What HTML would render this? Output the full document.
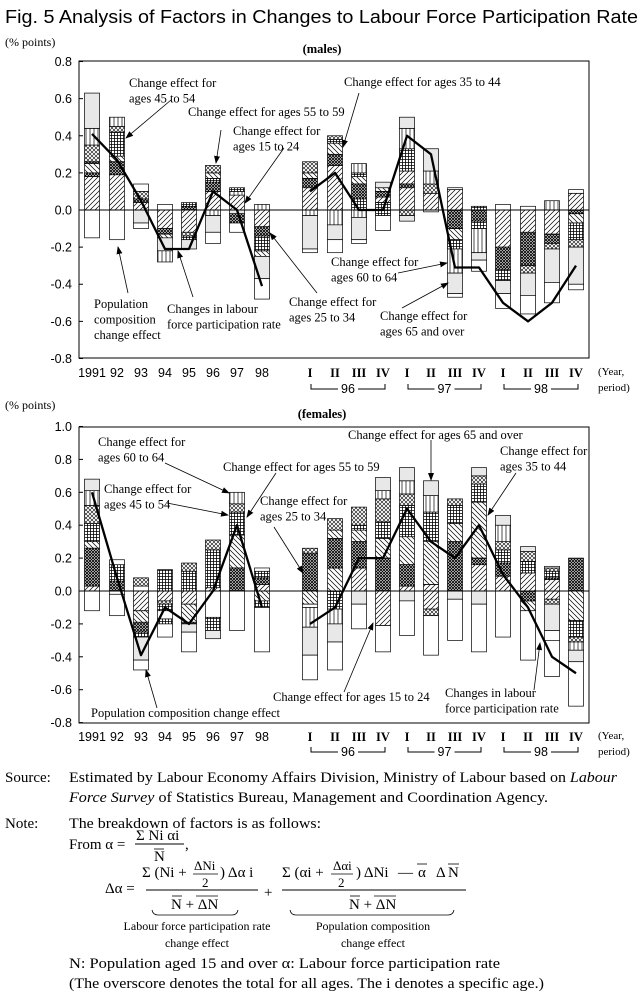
<!DOCTYPE html>
<html><head><meta charset="utf-8">
<style>
html,body{margin:0;padding:0;background:#fff;}
body{width:643px;height:997px;overflow:hidden;position:relative;}
svg{position:absolute;left:0;top:0;}
.s{font-family:"Liberation Serif",serif;}
.a{font-family:"Liberation Sans",sans-serif;}
</style></head><body>
<svg id="c" width="643" height="997" viewBox="0 0 643 997">
<defs>
<pattern id="ps" width="5" height="5" patternUnits="userSpaceOnUse"><path d="M-1,6 L6,-1 M-1,1 L1,-1 M4,6 L6,4" stroke="#000" stroke-width="0.7"/></pattern>
<pattern id="pb" width="5" height="5" patternUnits="userSpaceOnUse"><path d="M-1,-1 L6,6 M4,-1 L6,1 M-1,4 L1,6" stroke="#000" stroke-width="0.7"/></pattern>
<pattern id="pd" width="3" height="3" patternUnits="userSpaceOnUse"><rect width="3" height="3" fill="#fff"/><path d="M0,0 L3,3 M3,0 L0,3" stroke="#000" stroke-width="0.9"/></pattern>
<pattern id="pg" width="3" height="3" patternUnits="userSpaceOnUse"><rect width="3" height="3" fill="#fff"/><path d="M0,0.5 H3 M0.5,0 V3" stroke="#000" stroke-width="0.8"/></pattern>
<pattern id="px" width="4" height="4" patternUnits="userSpaceOnUse"><rect width="4" height="4" fill="#fff"/><path d="M0,0 L4,4 M4,0 L0,4" stroke="#000" stroke-width="0.6"/></pattern>
<pattern id="pv" width="4" height="4" patternUnits="userSpaceOnUse"><rect width="4" height="4" fill="#fff"/><path d="M2,0 V4" stroke="#000" stroke-width="0.7"/></pattern>
<marker id="ar" markerWidth="8" markerHeight="6" refX="7" refY="3" orient="auto" markerUnits="userSpaceOnUse"><path d="M0,0 L8,3 L0,6 z" fill="#000"/></marker>
</defs>
</svg>
<script>
const svg=document.getElementById('c');const NS='http://www.w3.org/2000/svg';
function el(t,a,txt){const e=document.createElementNS(NS,t);for(const k in a)e.setAttribute(k,a[k]);if(txt!==undefined)e.textContent=txt;svg.appendChild(e);return e;}
const fillOf={s:'url(#ps)',b:'url(#pb)',d:'url(#pd)',g:'url(#pg)',x:'url(#px)',v:'url(#pv)',y:'#e8e8e8',w:'#fff'};
const xs=[92,117,141,165,189,213,237,262,310,335,359,383,407,431,455,479,503,528,552,576];
function chart(o){
 const Y=v=>o.zero-v*o.k;
 o.bars.forEach((b,i)=>{const x=xs[i]-7.5;
  let prev=0;b[0].forEach(([t,v])=>{el('rect',{x:x,y:Y(v),width:15,height:Math.max(0,Y(prev)-Y(v)),fill:fillOf[t],stroke:'#000','stroke-width':0.7});prev=v;});
  prev=0;b[1].forEach(([t,v])=>{el('rect',{x:x,y:Y(prev),width:15,height:Math.max(0,Y(v)-Y(prev)),fill:fillOf[t],stroke:'#000','stroke-width':0.7});prev=v;});
 });
 el('rect',{x:79,y:o.top,width:510,height:o.bot-o.top,fill:'none',stroke:'#000','stroke-width':1});
 el('line',{x1:79,x2:589,y1:o.zero,y2:o.zero,stroke:'#000','stroke-width':1});
 o.ticks.forEach(v=>{const y=Y(v);el('line',{x1:79,x2:83,y1:y,y2:y,stroke:'#000'});
  el('text',{x:72,y:y+4.5,'text-anchor':'end','font-size':12.5,class:'a'},(v<0?'-':'')+Math.abs(v).toFixed(1));});
 const l1=o.line.slice(0,8).map((v,i)=>xs[i]+','+Y(v)).join(' ');
 const l2=o.line.slice(8).map((v,i)=>xs[i+8]+','+Y(v)).join(' ');
 el('polyline',{points:l1,fill:'none',stroke:'#000','stroke-width':2.3,'stroke-linejoin':'round'});
 el('polyline',{points:l2,fill:'none',stroke:'#000','stroke-width':2.3,'stroke-linejoin':'round'});
 ['1991','92','93','94','95','96','97','98'].forEach((t,i)=>el('text',{x:xs[i],y:o.xl,'text-anchor':'middle','font-size':12.5,class:'a'},t));
 const R=['I','II','III','IV'];
 for(let i=0;i<12;i++)el('text',{x:xs[8+i],y:o.xl,'text-anchor':'middle','font-size':12.5,'font-weight':'bold',class:'s'},R[i%4]);
 ['96','97','98'].forEach((t,j)=>{const a=xs[8+4*j]+1,b=xs[11+4*j]+2,m=(a+b)/2;
  el('path',{d:`M${a},${o.br-5} V${o.br} H${m-10} M${m+10},${o.br} H${b} V${o.br-5}`,fill:'none',stroke:'#000','stroke-width':1});
  el('text',{x:m,y:o.br+4,'text-anchor':'middle','font-size':12.5,class:'a'},t);});
 el('text',{x:598,y:o.xl-2,'font-size':11,class:'s'},'(Year,');
 el('text',{x:598,y:o.xl+14,'font-size':11,class:'s'},'period)');
}
function T(x,y,lines,fs){lines.forEach((t,i)=>el('text',{x:x,y:y+i*15.5,'font-size':fs||12.5,class:'s'},t));}
function A(x1,y1,x2,y2,noHead){const a={x1,y1,x2,y2,stroke:'#000','stroke-width':0.8};if(!noHead)a['marker-end']='url(#ar)';el('line',a);}

el('text',{x:5,y:23,'font-size':18,class:'a',textLength:633,lengthAdjust:'spacingAndGlyphs'},'Fig. 5  Analysis of Factors in Changes to Labour Force Participation Rate');
el('text',{x:5,y:46,'font-size':12,class:'s'},'(% points)');
el('text',{x:322,y:53,'font-size':12.5,'font-weight':'bold','text-anchor':'middle',class:'s'},'(males)');

chart({top:61,bot:358,zero:210,k:185.6,ticks:[0.8,0.6,0.4,0.2,0,-0.2,-0.4,-0.6,-0.8],xl:377,br:389,
line:[0.41,0.27,0.05,-0.21,-0.21,0.1,0.0,-0.41, 0.1,0.2,0.0,0.0,0.4,0.3,-0.31,-0.31,-0.5,-0.6,-0.5,-0.3],
bars:[
[[['s',.18],['d',.2],['b',.25],['d',.26],['x',.35],['v',.44],['y',.63]],[['w',-.15]]],
[[['s',.19],['d',.26],['b',.29],['g',.42],['x',.45],['v',.5]],[['w',-.16]]],
[[['s',.04],['d',.06],['x',.1],['w',.14]],[['y',-.07],['w',-.1]]],
[[['w',.03]],[['s',-.1],['d',-.13],['b',-.15],['y',-.22],['v',-.28]]],
[[['d',.02],['g',.04]],[['s',-.12],['x',-.14],['g',-.16],['y',-.21]]],
[[['s',.1],['d',.15],['g',.17],['b',.2],['x',.24]],[['v',-.03],['y',-.12],['w',-.18]]],
[[['s',.08],['v',.1],['g',.12]],[['y',-.02],['d',-.07],['w',-.12]]],
[[['v',.03]],[['s',-.09],['d',-.14],['g',-.22],['b',-.25],['y',-.37],['w',-.48]]],
[[['s',.12],['d',.17],['b',.2],['x',.26]],[['v',-.03],['y',-.21],['w',-.23]]],
[[['s',.24],['d',.3],['b',.36],['g',.38],['x',.4]],[['v',-.08],['y',-.16],['w',-.23]]],
[[['g',.06],['d',.14],['b',.18],['g',.2],['v',.25]],[['v',-.04],['y',-.16],['w',-.18]]],
[[['g',.04],['s',.07],['d',.1],['b',.12],['y',.15]],[['g',-.03],['w',-.11]]],
[[['s',.12],['d',.14],['s',.21],['g',.33],['v',.44],['y',.5]],[['x',-.03],['y',-.06]]],
[[['s',.09],['x',.14],['v',.21],['y',.33]],[['w',-.01]]],
[[['s',.11],['w',.12]],[['d',-.1],['b',-.16],['g',-.21],['v',-.34],['y',-.45],['w',-.47]]],
[[['g',.02]],[['d',-.06],['g',-.1],['v',-.23],['y',-.27],['w',-.33]]],
[[['w',.03]],[['s',-.2],['d',-.32],['g',-.38],['y',-.45],['w',-.53]]],
[[['w',.02]],[['s',-.12],['d',-.3],['x',-.34],['y',-.46],['w',-.56]]],
[[['v',.05]],[['s',-.13],['d',-.18],['x',-.21],['y',-.39],['w',-.5]]],
[[['s',.09],['w',.11]],[['d',-.02],['b',-.07],['g',-.16],['x',-.2],['y',-.4],['w',-.43]]]
]});

T(129,87,['Change effect for','ages 45 to 54']);A(171,100,126,138);
T(188,116,['Change effect for ages 55 to 59']);A(221,130,216,163);
T(233,135,['Change effect for','ages 15 to 24']);A(284,148,245,203);
T(344,86,['Change effect for ages 35 to 44']);A(359,93,343,147);
T(94,308,['Population','composition','change effect']);A(128,293,118,247);
T(167,313,['Changes in labour','force participation rate']);A(193,297,178,251);
T(289,306,['Change effect for','ages 25 to 34']);A(317,293,270,233);
T(331,266,['Change effect for','ages 60 to 64']);A(398,273,447,263);
T(380,320,['Change effect for','ages 65 and over']);A(402,308,448,283);

el('text',{x:5,y:409,'font-size':12,class:'s'},'(% points)');
el('text',{x:322,y:418,'font-size':12.5,'font-weight':'bold','text-anchor':'middle',class:'s'},'(females)');

chart({top:427,bot:723,zero:591,k:164.5,ticks:[1.0,0.8,0.6,0.4,0.2,0,-0.2,-0.4,-0.6,-0.8],xl:741,br:752,
line:[0.6,0.08,-0.39,-0.1,-0.2,0.0,0.4,-0.1, -0.2,-0.1,0.2,0.2,0.5,0.3,0.2,0.4,0.1,-0.1,-0.4,-0.5],
bars:[
[[['s',.03],['d',.26],['b',.3],['g',.41],['x',.52],['v',.61],['y',.68]],[['w',-.12]]],
[[['d',.06],['g',.16],['w',.19]],[['w',-.02],['w',-.15]]],
[[['w',.03],['x',.08]],[['s',-.12],['b',-.19],['d',-.25],['g',-.28],['y',-.42],['w',-.48]]],
[[['g',.13]],[['s',-.06],['x',-.08],['g',-.12],['w',-.17],['g',-.2],['w',-.28]]],
[[['g',.12],['x',.17]],[['s',-.08],['b',-.19],['d',-.2],['y',-.25],['w',-.37]]],
[[['s',.02],['g',.25],['x',.31]],[['w',-.16],['g',-.24],['y',-.29]]],
[[['d',.14],['b',.34],['g',.48],['x',.53],['v',.6]],[['w',-.24]]],
[[['s',.04],['d',.08],['g',.12],['w',.14]],[['b',-.06],['g',-.1],['w',-.37]]],
[[['d',.23],['x',.26]],[['b',-.08],['w',-.1],['v',-.22],['y',-.39],['w',-.54]]],
[[['b',.14],['d',.32],['b',.37],['x',.44]],[['g',-.11],['v',-.2],['y',-.31],['w',-.48]]],
[[['s',.14],['d',.3],['b',.37],['g',.4],['x',.51]],[['y',-.08],['w',-.23]]],
[[['d',.2],['b',.32],['g',.42],['x',.56],['v',.61],['y',.69]],[['s',-.21],['w',-.37]]],
[[['s',.03],['d',.16],['b',.33],['g',.52],['x',.59],['v',.67],['y',.75]],[['y',-.06],['w',-.27]]],
[[['s',.04],['b',.3],['g',.48],['v',.58],['y',.67]],[['s',-.11],['x',-.15],['w',-.39]]],
[[['d',.3],['b',.41],['g',.52],['x',.56]],[['y',-.05],['w',-.3]]],
[[['s',.16],['d',.2],['b',.54],['g',.65],['x',.7],['y',.75]],[['y',-.08],['w',-.37]]],
[[['s',.09],['d',.17],['g',.25],['x',.3],['v',.4],['y',.46]],[['w',-.28]]],
[[['s',.11],['g',.18],['x',.24],['y',.27]],[['d',-.06],['b',-.12],['w',-.42]]],
[[['s',.07],['d',.08],['g',.12],['x',.14],['w',.15]],[['s',-.05],['x',-.08],['y',-.24],['w',-.3],['w',-.52]]],
[[['d',.2]],[['b',-.18],['g',-.28],['x',-.31],['v',-.36],['y',-.43],['w',-.7]]]
]});

T(98,446,['Change effect for','ages 60 to 64']);A(165,463,229,493);
T(104,493,['Change effect for','ages 45 to 54']);A(167,503,228,515);
T(223,471,['Change effect for ages 55 to 59']);A(276,473,247,517);
T(260,505,['Change effect for','ages 25 to 34']);A(274,527,303,573);
T(348,439,['Change effect for ages 65 and over']);A(431,440,431,480);
T(500,455,['Change effect for','ages 35 to 44']);A(516,473,488,515);
T(273,701,['Change effect for ages 15 to 24']);A(344,692,373,623);
T(445,697,['Changes in labour','force participation rate']);A(534,690,540,643);
T(91,717,['Population composition change effect']);A(157,708,146,670);

// Notes
const fs=15;
const TL=(x,y,txt,len,html)=>{const e=el('text',{x:x,y:y,'font-size':fs,class:'s',textLength:len,lengthAdjust:'spacingAndGlyphs'});if(html)e.innerHTML=txt;else e.textContent=txt;return e;};
el('text',{x:5,y:782,'font-size':fs,class:'s'},'Source:');
TL(69,782,'Estimated by Labour Economy Affairs Division, Ministry of Labour based on <tspan font-style="italic">Labour</tspan>',548,true);
TL(69,802,'<tspan font-style="italic">Force Survey</tspan> of Statistics Bureau, Management and Coordination Agency.',479,true);
el('text',{x:5,y:828,'font-size':fs,class:'s'},'Note:');
TL(69,828,'The breakdown of factors is as follows:',252);
el('text',{x:69,y:849,'font-size':fs,class:'s'},'From α =');
el('text',{x:136,y:840,'font-size':fs,class:'s'},'Σ Ni αi');
el('line',{x1:135,x2:184,y1:844,y2:844,stroke:'#000','stroke-width':1});
el('text',{x:154,y:861,'font-size':fs,class:'s'},'N');el('line',{x1:154,x2:164,y1:849,y2:849,stroke:'#000','stroke-width':0.8});
el('text',{x:185,y:849,'font-size':fs,class:'s'},',');
el('text',{x:105,y:893,'font-size':fs,class:'s'},'Δα =');
el('text',{x:142,y:877,'font-size':fs,class:'s'},'Σ (Ni +');
el('text',{x:194,y:870,'font-size':13,class:'s'},'ΔNi');el('line',{x1:193,x2:218,y1:874,y2:874,stroke:'#000','stroke-width':0.8});
el('text',{x:202,y:887,'font-size':13,class:'s'},'2');
el('text',{x:220,y:877,'font-size':fs,class:'s'},') Δα i');
el('line',{x1:146,x2:258,y1:890,y2:890,stroke:'#000','stroke-width':1});
el('text',{x:171,y:909,'font-size':fs,class:'s'},'N + ΔN');
el('line',{x1:172,x2:182,y1:896,y2:896,stroke:'#000','stroke-width':0.8});el('line',{x1:196,x2:218,y1:896,y2:896,stroke:'#000','stroke-width':0.8});
el('text',{x:264,y:897,'font-size':fs,class:'s'},'+');
el('text',{x:282,y:877,'font-size':fs,class:'s'},'Σ (αi +');
el('text',{x:333,y:870,'font-size':13,class:'s'},'Δαi');el('line',{x1:331,x2:353,y1:874,y2:874,stroke:'#000','stroke-width':0.8});
el('text',{x:338,y:887,'font-size':13,class:'s'},'2');
el('text',{x:356,y:877,'font-size':fs,class:'s'},') ΔNi');
el('text',{x:398,y:877,'font-size':fs,class:'s'},'—');
el('text',{x:418,y:877,'font-size':fs,class:'s'},'α');
el('line',{x1:417,x2:427,y1:864,y2:864,stroke:'#000','stroke-width':0.8});
el('text',{x:436,y:877,'font-size':fs,class:'s'},'Δ');
el('text',{x:448,y:877,'font-size':fs,class:'s'},'N');
el('line',{x1:448,x2:459,y1:864,y2:864,stroke:'#000','stroke-width':0.8});
el('line',{x1:282,x2:466,y1:890,y2:890,stroke:'#000','stroke-width':1});
el('text',{x:349,y:909,'font-size':fs,class:'s'},'N + ΔN');
el('line',{x1:350,x2:360,y1:896,y2:896,stroke:'#000','stroke-width':0.8});el('line',{x1:374,x2:396,y1:896,y2:896,stroke:'#000','stroke-width':0.8});
el('path',{d:'M152,910 q1,5 6,5 H232 q5,0 6,-5',fill:'none',stroke:'#000','stroke-width':0.8});
el('path',{d:'M290,910 q1,5 6,5 H448 q5,0 6,-5',fill:'none',stroke:'#000','stroke-width':0.8});
el('text',{x:197,y:930,'font-size':12,'text-anchor':'middle',class:'s'},'Labour force participation rate');
el('text',{x:197,y:947,'font-size':12,'text-anchor':'middle',class:'s'},'change effect');
el('text',{x:373,y:930,'font-size':12,'text-anchor':'middle',class:'s'},'Population composition');
el('text',{x:373,y:947,'font-size':12,'text-anchor':'middle',class:'s'},'change effect');
TL(69,968,'N: Population aged 15 and over   α: Labour force participation rate',431);
TL(69,988,'(The overscore denotes the total for all ages. The i denotes a specific age.)',475);
</script>
</body></html>
